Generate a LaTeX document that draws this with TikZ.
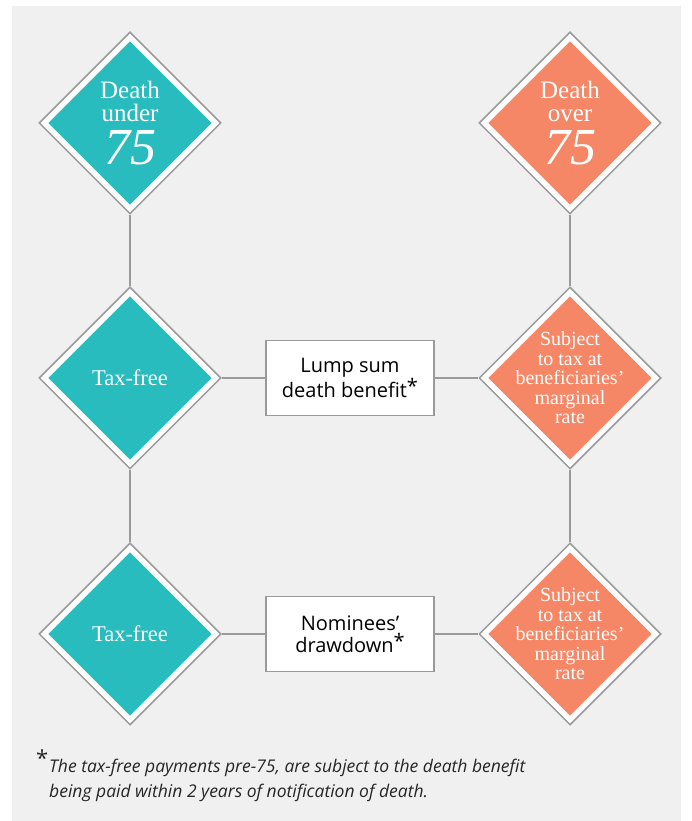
\documentclass[tikz,border=0pt]{standalone}
\usepackage{fontspec}
\newfontfamily\seriff{Liberation Serif}
\newfontfamily\sansf{Open Sans}
\definecolor{under75}{HTML}{28BCBE}
\definecolor{over75}{HTML}{F58767}
\definecolor{edgegrey}{HTML}{9A9A9C}
\definecolor{panel}{HTML}{F0F0F0}
\usetikzlibrary{shapes.geometric}

\begin{document}
\begin{tikzpicture}[x=1pt,y=1pt,
    gem/.style={diamond, draw=edgegrey, line width=1.5pt, fill=white,
      minimum width=182pt, minimum height=182pt, inner sep=0pt,
      path picture={\fill[#1] ([xshift=9pt]path picture bounding box.west)
        -- ([yshift=-9pt]path picture bounding box.north)
        -- ([xshift=-9pt]path picture bounding box.east)
        -- ([yshift=9pt]path picture bounding box.south) -- cycle;}},
    gemtext/.style={text=white, align=center, inner sep=0pt,
      font=\seriff\fontsize{20}{19.5}\selectfont},
    freetext/.style={text=white, inner sep=0pt,
      font=\seriff\fontsize{22.5}{22}\selectfont},
    headtext/.style={text=white, align=center, inner sep=0pt,
      font=\seriff\fontsize{25}{23}\selectfont},
    tag/.style={draw=edgegrey, line width=1.5pt, fill=white,
      minimum width=168pt, minimum height=75pt, align=center,
      font=\sansf\fontsize{20}{22}\selectfont},
    link/.style={draw=edgegrey, line width=1.5pt}]
    \useasboundingbox (0,0) rectangle (691,821);
    \fill[panel] (12,0) rectangle (681,815);

    % left column
    \node[gem=under75, label={[headtext]center:Death\\under\\[8pt]{\fontsize{52}{44}\selectfont\itshape 75}}] (under) at (130,698) {};
    \node[gem=under75, label={[freetext]center:Tax-free}] (freea) at (130,443) {};
    \node[gem=under75, label={[freetext]center:Tax-free}] (freeb) at (130,187) {};

    % right column
    \node[gem=over75, label={[headtext]center:Death\\over\\[8pt]{\fontsize{52}{44}\selectfont\itshape 75}}] (over) at (570,698) {};
    \node[gem=over75, label={[gemtext]center:Subject\\to tax at\\beneficiaries’\\marginal\\rate}] (taxa) at (570,443) {};
    \node[gem=over75, label={[gemtext]center:Subject\\to tax at\\beneficiaries’\\marginal\\rate}] (taxb) at (570,187) {};

    % middle boxes
    \node[tag] (lump) at (350,443) {Lump sum\\death benefit\raisebox{4pt}{*}};
    \node[tag] (draw) at (350,187) {Nominees’\\drawdown\raisebox{4pt}{*}};

    \draw[link] (under) -- (freea);
    \draw[link] (freea) -- (freeb);
    \draw[link] (over) -- (taxa);
    \draw[link] (taxa) -- (taxb);
    \draw[link] (freea) -- (lump);
    \draw[link] (lump) -- (taxa);
    \draw[link] (freeb) -- (draw);
    \draw[link] (draw) -- (taxb);

    % footnote
    \node[anchor=north west, inner sep=0pt, align=left,
      font=\sansf\itshape\fontsize{17.5}{25}\selectfont, text=black!85] (note) at (49,71)
      {\llap{\upshape\fontsize{22}{22}\selectfont\raisebox{6pt}{*}\kern1pt}The tax-free payments pre-75, are subject to the death benefit\\being paid within 2 years of notification of death.};
  \end{tikzpicture}
\end{document}
